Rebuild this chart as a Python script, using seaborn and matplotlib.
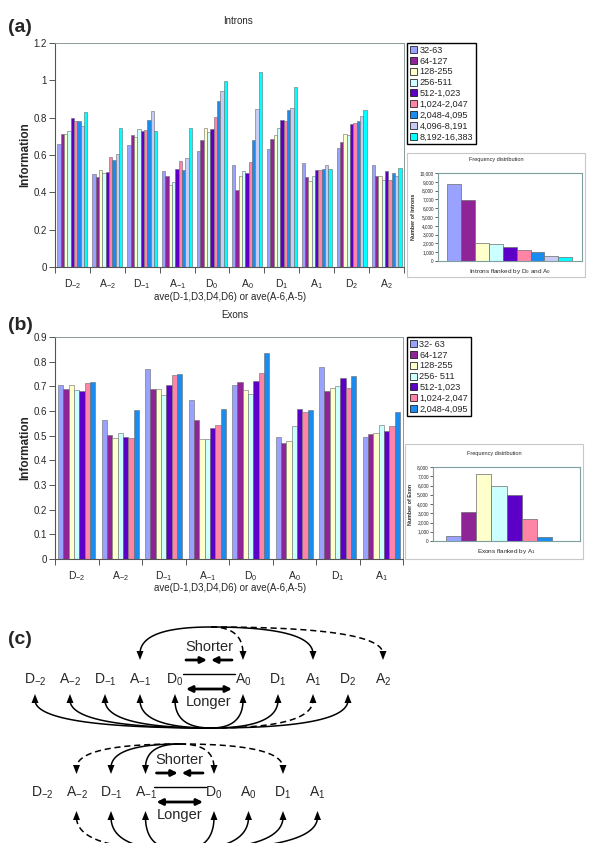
import numpy as np
import pandas as pd
import matplotlib.pyplot as plt
import seaborn as sns
from matplotlib.patches import Patch, Rectangle, Polygon

sns.set_theme(style='white')
plt.rcParams['font.family'] = ['Liberation Sans', 'DejaVu Sans']
plt.rcParams['mathtext.fontset'] = 'custom'
plt.rcParams['mathtext.rm'] = 'Liberation Sans'
plt.rcParams['mathtext.it'] = 'Liberation Sans:italic'

W, H = 600, 843

# ---- data -------------------------------------------------------------
intron_sites = ['D-2', 'A-2', 'D-1', 'A-1', 'D0', 'A0', 'D1', 'A1', 'D2', 'A2']
intron_site_labels = ['D$_{-2}$', 'A$_{-2}$', 'D$_{-1}$', 'A$_{-1}$', 'D$_0$',
                      'A$_0$', 'D$_1$', 'A$_1$', 'D$_2$', 'A$_2$']
intron_ranges = ['32-63', '64-127', '128-255', '256-511', '512-1,023',
                 '1,024-2,047', '2,048-4,095', '4,096-8,191', '8,192-16,383']
intron_info = [
    [0.660, 0.498, 0.655, 0.513, 0.621, 0.546, 0.630, 0.556, 0.637, 0.546],
    [0.715, 0.483, 0.705, 0.486, 0.680, 0.410, 0.686, 0.484, 0.672, 0.490],
    [0.710, 0.518, 0.697, 0.439, 0.745, 0.490, 0.707, 0.463, 0.713, 0.490],
    [0.730, 0.502, 0.737, 0.455, 0.723, 0.513, 0.745, 0.490, 0.707, 0.465],
    [0.800, 0.509, 0.727, 0.527, 0.737, 0.504, 0.790, 0.518, 0.764, 0.513],
    [0.780, 0.588, 0.733, 0.567, 0.803, 0.561, 0.782, 0.518, 0.772, 0.465],
    [0.780, 0.573, 0.788, 0.518, 0.890, 0.680, 0.840, 0.527, 0.780, 0.505],
    [0.755, 0.605, 0.834, 0.582, 0.943, 0.846, 0.852, 0.545, 0.810, 0.487],
    [0.830, 0.745, 0.727, 0.745, 0.995, 1.045, 0.964, 0.527, 0.840, 0.532],
]
intron_counts = [8700, 6900, 2100, 1900, 1550, 1200, 1000, 600, 400]

exon_sites = ['D-2', 'A-2', 'D-1', 'A-1', 'D0', 'A0', 'D1', 'A1']
exon_site_labels = ['D$_{-2}$', 'A$_{-2}$', 'D$_{-1}$', 'A$_{-1}$', 'D$_0$',
                    'A$_0$', 'D$_1$', 'A$_1$']
exon_ranges = ['32- 63', '64-127', '128-255', '256- 511', '512-1,023',
               '1,024-2,047', '2,048-4,095']
exon_info = [
    [0.705, 0.563, 0.770, 0.644, 0.705, 0.496, 0.778, 0.496],
    [0.689, 0.501, 0.691, 0.563, 0.716, 0.470, 0.680, 0.505],
    [0.705, 0.492, 0.689, 0.485, 0.686, 0.477, 0.693, 0.509],
    [0.686, 0.509, 0.663, 0.488, 0.667, 0.540, 0.700, 0.542],
    [0.680, 0.496, 0.705, 0.530, 0.720, 0.607, 0.732, 0.517],
    [0.713, 0.489, 0.745, 0.542, 0.756, 0.595, 0.695, 0.538],
    [0.718, 0.603, 0.748, 0.607, 0.835, 0.603, 0.743, 0.597],
]
exon_counts = [500, 3150, 7200, 6000, 4950, 2400, 400]

palette = ['#99A3FF', '#8E2496', '#FFFFCC', '#CCFFFF', '#5C00C8',
           '#FF85A6', '#1A8CF0', '#C8CCF5', '#00FFFF']

info_a_ticks = [0, 0.2, 0.4, 0.6, 0.8, 1.0, 1.2]
info_a_labels = ['0', '0.2', '0.4', '0.6', '0.8', '1', '1.2']
info_b_ticks = [0, 0.1, 0.2, 0.3, 0.4, 0.5, 0.6, 0.7, 0.8, 0.9]
info_b_labels = ['0', '0.1', '0.2', '0.3', '0.4', '0.5', '0.6', '0.7', '0.8', '0.9']

# diagram (c)
top_nodes = ['D$_{-2}$', 'A$_{-2}$', 'D$_{-1}$', 'A$_{-1}$', 'D$_0$',
             'A$_0$', 'D$_1$', 'A$_1$', 'D$_2$', 'A$_2$']
top_upper = [(3, '-'), (5, '--'), (7, '-'), (9, '--')]
top_lower = [(0, '-'), (1, '-'), (2, '-'), (3, '-'), (4, '-'),
             (5, '-'), (6, '-'), (7, '--'), (8, '-')]
bot_nodes = ['D$_{-2}$', 'A$_{-2}$', 'D$_{-1}$', 'A$_{-1}$', 'D$_0$',
             'A$_0$', 'D$_1$', 'A$_1$']
bot_upper = [(1, '--'), (2, '-'), (3, '-'), (4, '--'), (6, '--')]
bot_lower = [(1, '--'), (2, '-'), (3, '-'), (4, '-'), (5, '-'), (6, '-'), (7, '-')]


def box(x0, y0, x1, y1):
    return [x0 / W, 1 - y1 / H, (x1 - x0) / W, (y1 - y0) / H]


fig = plt.figure(figsize=(6, 8.43), dpi=100)


def info_panel(rect, sites, labels, ranges, values, ymax, ticks, ticklabels):
    ax = fig.add_axes(rect)
    rows = [(s, r, v) for r, vals in zip(ranges, values) for s, v in zip(sites, vals)]
    df = pd.DataFrame(rows, columns=['site', 'range', 'info'])
    sns.barplot(data=df, x='site', y='info', hue='range', order=sites,
                hue_order=ranges, palette=palette[:len(ranges)], width=0.86,
                saturation=1, edgecolor='#6a6a6a', linewidth=0.4,
                errorbar=None, legend=False, ax=ax)
    n = len(sites)
    ax.set_xlim(-0.5, n - 0.5)
    ax.set_ylim(0, ymax)
    ax.set_yticks(ticks)
    ax.set_yticklabels(ticklabels, fontsize=7)
    ax.set_xticks(range(n))
    ax.set_xticklabels(labels, fontsize=7.5)
    ax.set_xticks(np.arange(n + 1) - 0.5, minor=True)
    ax.tick_params(axis='x', which='major', length=0, pad=7)
    ax.tick_params(axis='x', which='minor', length=4, width=0.7,
                   direction='out', color='#555555', bottom=True)
    ax.tick_params(axis='y', length=4, width=0.7, direction='out',
                   color='#555555', left=True, pad=2)
    ax.set_xlabel('')
    ax.set_ylabel('')
    for side in ['top', 'right']:
        ax.spines[side].set_color('#8a9a9a')
        ax.spines[side].set_linewidth(0.7)
    for side in ['left', 'bottom']:
        ax.spines[side].set_color('#555555')
        ax.spines[side].set_linewidth(0.8)
    return ax


def freq_inset(frame, rect, ranges, counts, ymax, xlim, ylabel, xlabel, title_y):
    fig.add_artist(Rectangle((frame[0], frame[1]), frame[2], frame[3],
                             transform=fig.transFigure, fill=False,
                             edgecolor='#c8c8c8', linewidth=0.8))
    ax = fig.add_axes(rect)
    sns.barplot(x=ranges, y=counts, hue=ranges, order=ranges, hue_order=ranges,
                palette=palette[:len(ranges)], width=1.0, saturation=1,
                edgecolor='#6a6a6a', linewidth=0.5, legend=False, ax=ax)
    ax.set_xlim(*xlim)
    ax.set_ylim(0, ymax)
    ticks = list(range(0, ymax + 1, 1000))
    ax.set_yticks(ticks)
    ax.set_yticklabels([f'{t:,}' for t in ticks], fontsize=3.4)
    ax.set_xticks([])
    ax.tick_params(axis='y', length=2, width=0.5, direction='out', left=True, pad=1)
    for side in ax.spines:
        ax.spines[side].set_color('#7f9f9f')
        ax.spines[side].set_linewidth(0.8)
    ax.set_ylabel(ylabel, fontsize=3.8, fontweight='bold', labelpad=3)
    ax.set_xlabel(xlabel, fontsize=4.6, labelpad=4)
    cx = frame[0] + frame[2] / 2
    fig.text(cx, title_y, 'Frequency distribution', fontsize=4,
             ha='center', va='center')
    return ax


def legend_box(ranges, x, y):
    handles = [Patch(facecolor=c, edgecolor='black', linewidth=0.5)
               for c in palette[:len(ranges)]]
    fig.legend(handles, ranges, loc='upper left', bbox_to_anchor=(x / W, 1 - y / H),
               fontsize=6.6, frameon=True, fancybox=False, edgecolor='black',
               framealpha=1, handlelength=0.8, handleheight=0.8,
               handletextpad=0.25, labelspacing=0.2, borderpad=0.3,
               borderaxespad=0)


# ---- panel (a) -----------------------------------------------------------
info_panel(box(55, 43, 404, 267), intron_sites, intron_site_labels,
           intron_ranges, intron_info, 1.2, info_a_ticks, info_a_labels)
fig.text(238 / W, 1 - 21 / H, 'Introns', fontsize=7, ha='center', va='center')
fig.text(230 / W, 1 - 297 / H, 'ave(D-1,D3,D4,D6) or ave(A-6,A-5)', fontsize=7,
         ha='center', va='center')
fig.text(25 / W, 1 - 155 / H, 'Information', fontsize=8.5, fontweight='bold',
         rotation=90, ha='center', va='center')
fig.text(8 / W, 1 - 28 / H, '(a)', fontsize=14, fontweight='bold', va='center')
legend_box(intron_ranges, 407, 43)
freq_inset(box(407, 153, 585, 277), box(438, 173, 582, 261), intron_ranges,
           intron_counts, 10000, (-1.15, 9.2), 'Number of Introns',
           'Introns flanked by D$_0$ and A$_0$', 1 - 159 / H)

# ---- panel (b) -----------------------------------------------------------
info_panel(box(55, 337, 403, 559), exon_sites, exon_site_labels,
           exon_ranges, exon_info, 0.9, info_b_ticks, info_b_labels)
fig.text(235 / W, 1 - 315 / H, 'Exons', fontsize=7, ha='center', va='center')
fig.text(230 / W, 1 - 588 / H, 'ave(D-1,D3,D4,D6) or ave(A-6,A-5)', fontsize=7,
         ha='center', va='center')
fig.text(25 / W, 1 - 448 / H, 'Information', fontsize=8.5, fontweight='bold',
         rotation=90, ha='center', va='center')
fig.text(8 / W, 1 - 325 / H, '(b)', fontsize=14, fontweight='bold', va='center')
legend_box(exon_ranges, 407, 337)
freq_inset(box(405, 444, 583, 559), box(433, 467, 580, 541), exon_ranges,
           exon_counts, 8000, (-1.36, 8.35), 'Number of Exon',
           'Exons flanked by A$_1$', 1 - 453 / H)

# ---- panel (c) -----------------------------------------------------------
axc = fig.add_axes(box(0, 600, 600, 843))
axc.set_xlim(0, W)
axc.set_ylim(843, 600)
axc.axis('off')
axc.patch.set_alpha(0)
fig.text(8 / W, 1 - 640 / H, '(c)', fontsize=14, fontweight='bold', va='center')


def arc(ax, start, end, style):
    xa, ya = start
    xb, yb = end
    d = np.sign(yb - ya)
    stop = yb - d * 6
    t = np.linspace(0, 1, 80)
    bx = (1 - t) ** 2 * xa + 2 * (1 - t) * t * xb + t ** 2 * xb
    by = (1 - t) ** 2 * ya + 2 * (1 - t) * t * ya + t ** 2 * stop
    ls = (0, (4, 2.5)) if style == '--' else '-'
    ax.plot(bx, by, color='black', lw=1.1, ls=ls, solid_capstyle='butt')
    ax.add_patch(Polygon([(xb, yb), (xb - 3.5, yb - d * 9), (xb + 3.5, yb - d * 9)],
                         closed=True, color='black', lw=0))


def thick_arrow(ax, x0, x1, y, style):
    ax.annotate('', xy=(x1, y), xytext=(x0, y),
                arrowprops=dict(arrowstyle=style, lw=2.0, color='black',
                                shrinkA=0, shrinkB=0, mutation_scale=9))


def diagram(nodes, x0, step, gap, gap_idx, label_y, upper, lower,
            up_apex, up_tip, low_apex, low_tip):
    xs = [x0 + step * i + (gap if i >= gap_idx else 0) for i in range(len(nodes))]
    for x, lab in zip(xs, nodes):
        axc.text(x, label_y, lab, fontsize=10, ha='center', va='center')
    for i, st in upper:
        arc(axc, up_apex, (xs[i], up_tip), st)
    for i, st in lower:
        arc(axc, low_apex, (xs[i], low_tip), st)
    left = xs[gap_idx - 1] + 8
    right = xs[gap_idx] - 8
    mid = (left + right) / 2
    axc.plot([left, right], [label_y - 6, label_y - 6], color='black', lw=1.0)
    axc.text(mid, label_y - 33, 'Shorter', fontsize=10.5, ha='center', va='center')
    thick_arrow(axc, left + 3, mid - 2, label_y - 20, '-|>')
    thick_arrow(axc, right - 3, mid + 2, label_y - 20, '-|>')
    thick_arrow(axc, left + 3, right - 3, label_y + 9, '<|-|>')
    axc.text(mid, label_y + 22, 'Longer', fontsize=10.5, ha='center', va='center')


diagram(top_nodes, 35, 35, 33, 5, 680, top_upper, top_lower,
        (211, 627), 660, (211, 728), 694)
diagram(bot_nodes, 42, 34.5, 34, 4, 793, bot_upper, bot_lower,
        (180, 744), 774, (180, 850), 811)

fig.savefig('out.png', dpi=100)
